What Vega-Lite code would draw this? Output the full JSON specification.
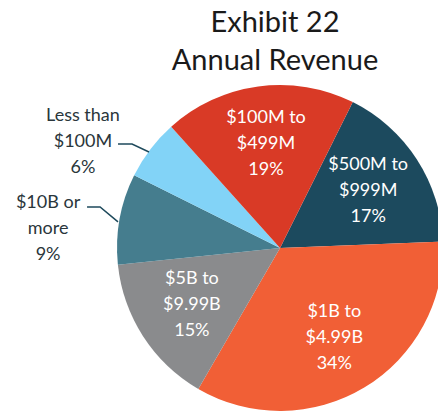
{
  "$schema": "https://vega.github.io/schema/vega-lite/v6.json",
  "width": 438,
  "height": 342,
  "padding": {"top": 9, "left": 0, "right": 0, "bottom": 0},
  "background": "white",
  "config": {"view": {"stroke": null}, "font": "Lato"},
  "title": {
    "text": ["Exhibit 22", "Annual Revenue"],
    "fontSize": 29,
    "lineHeight": 38,
    "font": "Lato",
    "fontWeight": "normal",
    "color": "#1a1a1a",
    "anchor": "middle",
    "dx": 56,
    "offset": 0
  },
  "datasets": {
    "slices": [
      {"category": "$500M to\n$999M\n17%", "pct": 17, "order": 1, "key": "500M"},
      {"category": "$1B to\n$4.99B\n34%", "pct": 34, "order": 2, "key": "1B"},
      {"category": "$5B to\n$9.99B\n15%", "pct": 15, "order": 3, "key": "5B"},
      {"category": "$10B or\nmore\n9%", "pct": 9, "order": 4, "key": "10B"},
      {"category": "Less than\n$100M\n6%", "pct": 6, "order": 5, "key": "lt100M"},
      {"category": "$100M to\n$499M\n19%", "pct": 19, "order": 6, "key": "100M"}
    ],
    "outside": [
      {"label": "Less than\n$100M\n6%", "x": -1.209, "y": 0.669},
      {"label": "$10B or\nmore\n9%", "x": -1.423, "y": 0.135}
    ],
    "leaders": [
      {"g": "a", "s": 1, "x": -0.994, "y": 0.638},
      {"g": "a", "s": 2, "x": -0.908, "y": 0.638},
      {"g": "a", "s": 3, "x": -0.804, "y": 0.589},
      {"g": "b", "s": 1, "x": -1.184, "y": 0.252},
      {"g": "b", "s": 2, "x": -1.104, "y": 0.252},
      {"g": "b", "s": 3, "x": -0.994, "y": 0.160}
    ]
  },
  "layer": [
    {
      "data": {"name": "slices"},
      "mark": {"type": "arc", "outerRadius": 163},
      "encoding": {
        "x": {"datum": 0, "type": "quantitative", "scale": {"domain": [-1.718, 0.969]}, "axis": null},
        "y": {"datum": 0, "type": "quantitative", "scale": {"domain": [-1.043, 1.055]}, "axis": null},
        "theta": {"field": "pct", "type": "quantitative", "stack": true, "scale": {"range": [0.4625, 6.7457]}},
        "order": {"field": "order", "type": "quantitative"},
        "color": {
          "field": "key", "type": "nominal", "legend": null,
          "scale": {
            "domain": ["500M", "1B", "5B", "10B", "lt100M", "100M"],
            "range": ["#1C4A5E", "#F15F36", "#8A8B8D", "#457D8E", "#82D3F7", "#D93A26"]
          }
        }
      }
    },
    {
      "data": {"name": "slices"},
      "mark": {"type": "text", "radius": 105, "lineBreak": "\n", "fontSize": 18, "lineHeight": 26, "dy": -26, "color": "white", "font": "Lato", "baseline": "middle", "align": "center"},
      "encoding": {
        "x": {"datum": 0, "type": "quantitative", "scale": {"domain": [-1.718, 0.969]}, "axis": null},
        "y": {"datum": 0, "type": "quantitative", "scale": {"domain": [-1.043, 1.055]}, "axis": null},
        "theta": {"field": "pct", "type": "quantitative", "stack": true, "scale": {"range": [0.4625, 6.7457]}},
        "order": {"field": "order", "type": "quantitative"},
        "text": {"condition": {"test": "datum.pct >= 15", "field": "category"}, "value": ""}
      }
    },
    {
      "data": {"name": "leaders"},
      "mark": {"type": "line", "color": "#1E4A5C", "strokeWidth": 1.5},
      "encoding": {
        "x": {"field": "x", "type": "quantitative", "scale": {"domain": [-1.718, 0.969]}, "axis": null},
        "y": {"field": "y", "type": "quantitative", "scale": {"domain": [-1.043, 1.055]}, "axis": null},
        "detail": {"field": "g"},
        "order": {"field": "s", "type": "quantitative"}
      }
    },
    {
      "data": {"name": "outside"},
      "mark": {"type": "text", "lineBreak": "\n", "fontSize": 18, "lineHeight": 26, "dy": -23, "color": "#2A363B", "font": "Lato", "baseline": "middle", "align": "center"},
      "encoding": {
        "x": {"field": "x", "type": "quantitative", "scale": {"domain": [-1.718, 0.969]}, "axis": null},
        "y": {"field": "y", "type": "quantitative", "scale": {"domain": [-1.043, 1.055]}, "axis": null},
        "text": {"field": "label"}
      }
    }
  ]
}
